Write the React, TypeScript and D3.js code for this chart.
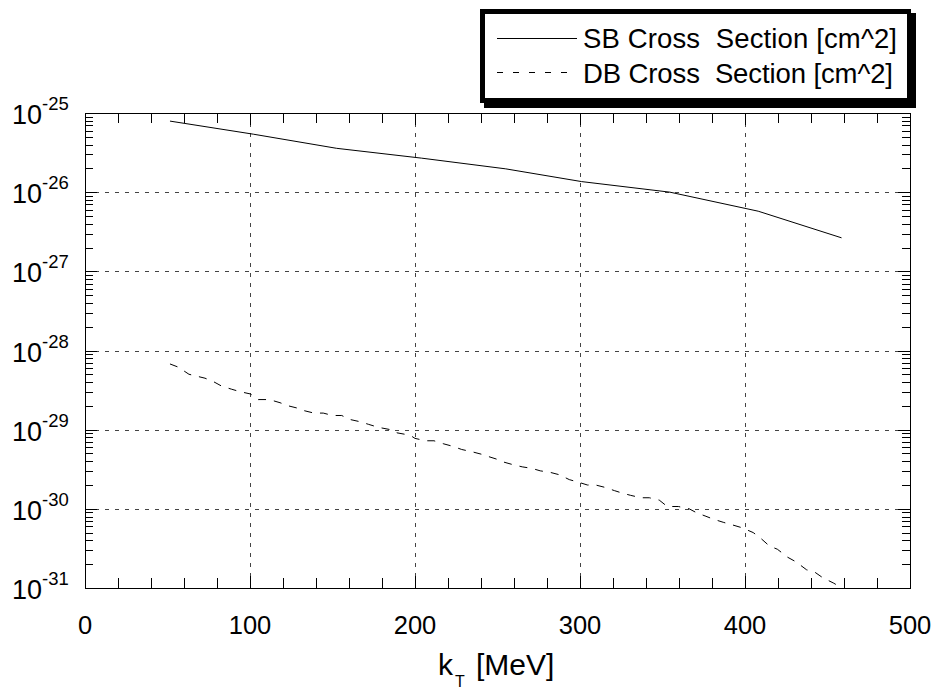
import React from "react";
import * as d3 from "d3";

const sbKT = [51.5, 102, 152.5, 204, 255, 301, 354.5, 408, 458.5];
const sbVal = [7.9e-26, 5.4e-26, 3.58e-26, 2.69e-26, 1.97e-26, 1.36e-26, 1.0e-26, 5.75e-27, 2.65e-27];

const dbKT = [
  51.5, 56.5, 63, 72.7, 77.6, 82.8, 88.9, 94, 100.4, 105, 111.7, 118.2, 123.2, 129.3, 132.7,
  138.8, 144.4, 150.1, 155.6, 160.2, 166.7, 171.7, 177.8, 185.2, 189.1, 197, 200, 206.4, 211.5,
  217.5, 222.8, 228.3, 234.7, 240.2, 244.6, 249.1, 253.9, 259, 265, 270.9, 275.9, 282.2, 287.6,
  293.5, 300, 304.5, 309.5, 315.4, 320.8, 325.6, 330.7, 337, 342, 348, 352.9, 359.6, 366.2,
  370.7, 375.8, 380.8, 386.8, 391.9, 398.4, 405, 409.4, 414.8, 419.6, 425.8, 430.9, 437.3,
  442.4, 447.1, 453.8, 458,
];
const dbVal = [
  6.76e-29, 6.17e-29, 5.01e-29, 4.47e-29, 4.07e-29, 3.55e-29, 3.24e-29, 3.02e-29, 2.82e-29,
  2.4e-29, 2.4e-29, 2.19e-29, 2.0e-29, 1.86e-29, 1.74e-29, 1.62e-29, 1.62e-29, 1.51e-29,
  1.51e-29, 1.35e-29, 1.26e-29, 1.17e-29, 1.07e-29, 1.0e-29, 9.12e-30, 8.51e-30, 7.76e-30,
  7.24e-30, 7.24e-30, 6.61e-30, 6.17e-30, 5.62e-30, 5.25e-30, 4.9e-30, 4.57e-30, 4.27e-30,
  3.89e-30, 3.63e-30, 3.39e-30, 3.24e-30, 3.02e-30, 2.88e-30, 2.69e-30, 2.34e-30, 2.14e-30,
  2.0e-30, 2.0e-30, 1.86e-30, 1.7e-30, 1.58e-30, 1.48e-30, 1.38e-30, 1.38e-30, 1.29e-30,
  1.07e-30, 1.07e-30, 1.0e-30, 8.91e-31, 8.13e-31, 7.41e-31, 6.76e-31, 6.31e-31, 5.75e-31,
  5.01e-31, 4.27e-31, 3.39e-31, 3.09e-31, 2.45e-31, 2.14e-31, 1.7e-31, 1.58e-31, 1.35e-31,
  1.15e-31, 1.02e-31,
];

const xTicks = [0, 100, 200, 300, 400, 500];
const xTickLabels = ["0", "100", "200", "300", "400", "500"];
const yExponents = [-31, -30, -29, -28, -27, -26, -25];
const yTickLabels = ["-31", "-30", "-29", "-28", "-27", "-26", "-25"];
const legendLabels = ["SB Cross  Section [cm^2]", "DB Cross  Section [cm^2]"];
const xLabelMain = "k";
const xLabelSub = "T";
const xLabelRest = "[MeV]";

const W = 937;
const H = 689;
const L = 85, R = 910, T = 113, B = 588;
const FONT = "'Liberation Sans', Arial, Helvetica, sans-serif";

export default function App() {
  const x = d3.scaleLinear().domain([0, 500]).range([L, R]);
  const y = d3.scaleLog().domain([1e-31, 1e-25]).range([B, T]);

  const line = d3
    .line<[number, number]>()
    .x((d) => x(d[0]))
    .y((d) => y(d[1]));

  const sbPath = line(sbKT.map((k, i) => [k, sbVal[i]] as [number, number])) || "";
  const dbPath = line(dbKT.map((k, i) => [k, dbVal[i]] as [number, number])) || "";

  const minorX = d3.range(0, 501, 20).filter((v) => v % 100 !== 0);
  const minorY: number[] = [];
  yExponents.slice(0, -1).forEach((e) => {
    for (let k = 2; k <= 9; k++) minorY.push(k * Math.pow(10, e));
  });

  const gridColor = "#444";
  const tickLenMinorX = 10;
  const tickLenMajorX = 12;
  const tickLenMinorY = 8;
  const tickLenMajorY = 12;

  return (
    <svg
      width={W}
      height={H}
      style={{ position: "absolute", left: 0, top: 0, background: "#fff" }}
      fontFamily={FONT}
    >
      <rect x={0} y={0} width={W} height={H} fill="#fff" />
      {/* grid */}
      <g stroke={gridColor} strokeWidth={1} strokeDasharray="4,6" shapeRendering="crispEdges">
        {xTicks.slice(1, -1).map((v) => (
          <line key={"gx" + v} x1={Math.round(x(v)) + 0.5} x2={Math.round(x(v)) + 0.5} y1={T} y2={B} />
        ))}
        {yExponents.slice(1, -1).map((e) => {
          const yy = Math.round(y(Math.pow(10, e))) + 0.5;
          return <line key={"gy" + e} x1={L} x2={R} y1={yy} y2={yy} />;
        })}
      </g>
      {/* ticks */}
      <g stroke="#000" strokeWidth={1} shapeRendering="crispEdges">
        {minorX.map((v) => {
          const xx = Math.round(x(v)) + 0.5;
          return (
            <g key={"mx" + v}>
              <line x1={xx} x2={xx} y1={B} y2={B - tickLenMinorX} />
              <line x1={xx} x2={xx} y1={T} y2={T + tickLenMinorX} />
            </g>
          );
        })}
        {xTicks.map((v) => {
          const xx = Math.round(x(v)) + 0.5;
          return (
            <g key={"Mx" + v}>
              <line x1={xx} x2={xx} y1={B} y2={B - tickLenMajorX} />
              <line x1={xx} x2={xx} y1={T} y2={T + tickLenMajorX} />
            </g>
          );
        })}
        {minorY.map((v, i) => {
          const yy = Math.round(y(v)) + 0.5;
          return (
            <g key={"my" + i}>
              <line x1={L} x2={L + tickLenMinorY} y1={yy} y2={yy} />
              <line x1={R} x2={R - tickLenMinorY} y1={yy} y2={yy} />
            </g>
          );
        })}
        {yExponents.map((e) => {
          const yy = Math.round(y(Math.pow(10, e))) + 0.5;
          return (
            <g key={"My" + e}>
              <line x1={L} x2={L + tickLenMajorY} y1={yy} y2={yy} />
              <line x1={R} x2={R - tickLenMajorY} y1={yy} y2={yy} />
            </g>
          );
        })}
      </g>
      {/* axes box */}
      <rect
        x={L + 0.5}
        y={T + 0.5}
        width={R - L}
        height={B - T}
        fill="none"
        stroke="#000"
        strokeWidth={1}
        shapeRendering="crispEdges"
      />
      {/* data */}
      <path d={sbPath} fill="none" stroke="#000" strokeWidth={1} />
      <path d={dbPath} fill="none" stroke="#000" strokeWidth={1} strokeDasharray="8,8" />
      {/* x tick labels */}
      {xTicks.map((v, i) => (
        <text key={"xl" + v} x={x(v)} y={634} fontSize={25.5} textAnchor="middle" fill="#000">
          {xTickLabels[i]}
        </text>
      ))}
      {/* y tick labels */}
      {yExponents.map((e, i) => {
        const yy = y(Math.pow(10, e));
        return (
          <g key={"yl" + e}>
            <text x={42} y={yy + 11} fontSize={27} textAnchor="end" fill="#000">
              10
            </text>
            <text x={42} y={yy - 3} fontSize={18.5} textAnchor="start" fill="#000">
              {yTickLabels[i]}
            </text>
          </g>
        );
      })}
      {/* x label */}
      <text x={438} y={675} fontSize={30} fill="#000">
        {xLabelMain}
      </text>
      <text x={455} y={687} fontSize={16} fill="#000">
        {xLabelSub}
      </text>
      <text x={476} y={675} fontSize={30} fill="#000">
        {xLabelRest}
      </text>
      {/* legend */}
      <rect x={484} y={13} width={432} height={95} fill="#000" />
      <rect x={480} y={9} width={431} height={94} fill="#000" />
      <rect x={485} y={14} width={422} height={84} fill="#fff" />
      <line x1={497} x2={577} y1={38.5} y2={38.5} stroke="#000" strokeWidth={1} />
      <line x1={497} x2={577} y1={72.5} y2={72.5} stroke="#000" strokeWidth={1} strokeDasharray="6,10" />
      <text
        x={583}
        y={48}
        fontSize={27.5}
        fill="#000"
        style={{ whiteSpace: "pre" }}
        textLength={314}
        lengthAdjust="spacing"
      >
        {legendLabels[0]}
      </text>
      <text
        x={583}
        y={83}
        fontSize={27.5}
        fill="#000"
        style={{ whiteSpace: "pre" }}
        textLength={310}
        lengthAdjust="spacing"
      >
        {legendLabels[1]}
      </text>
    </svg>
  );
}
